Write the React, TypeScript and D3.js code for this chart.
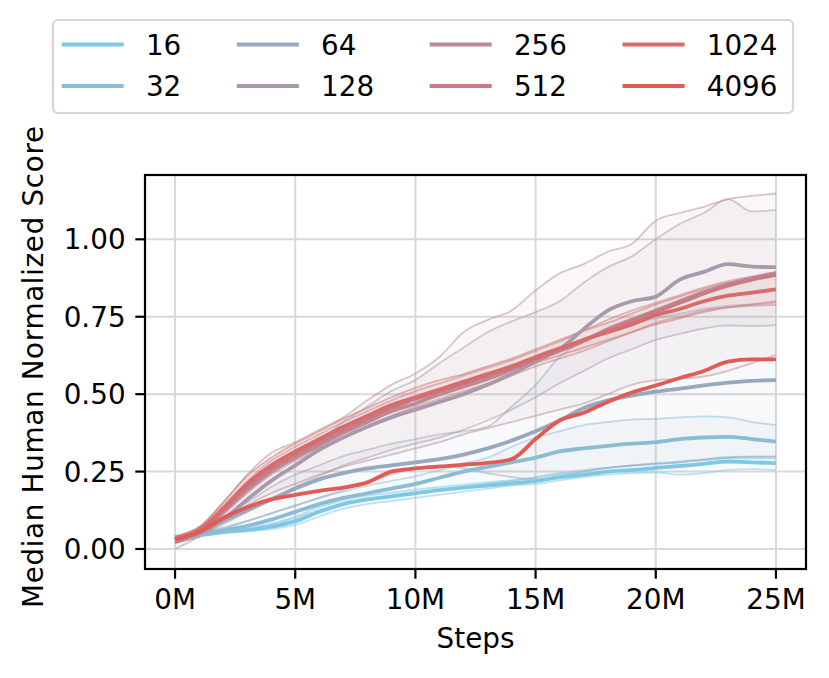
import * as d3 from 'd3';

// steps in millions
const steps = [0, 1, 2, 3, 4, 5, 6, 7, 8, 9, 10, 11, 12, 13, 14, 15, 16, 17, 18, 19, 20, 21, 22, 23, 24, 25];

const labels = ['16', '32', '64', '128', '256', '512', '1024', '4096'];
const colors = ['#7ec8e4', '#8bbcd4', '#98a8bf', '#a89aaa', '#b98b96', '#c87b83', '#d86b6b', '#e05a56'];

// medians
const med16 = [0.03, 0.045, 0.055, 0.062, 0.072, 0.09, 0.12, 0.145, 0.16, 0.17, 0.18, 0.19, 0.198, 0.205, 0.212, 0.22, 0.232, 0.24, 0.25, 0.255, 0.262, 0.268, 0.275, 0.282, 0.28, 0.277];
const med32 = [0.03, 0.045, 0.06, 0.075, 0.095, 0.12, 0.145, 0.165, 0.18, 0.195, 0.21, 0.23, 0.25, 0.265, 0.28, 0.295, 0.315, 0.325, 0.333, 0.34, 0.345, 0.355, 0.36, 0.362, 0.355, 0.347];
const med64 = [0.03, 0.05, 0.09, 0.125, 0.16, 0.195, 0.225, 0.245, 0.26, 0.27, 0.28, 0.29, 0.305, 0.325, 0.35, 0.38, 0.415, 0.455, 0.48, 0.495, 0.508, 0.518, 0.528, 0.537, 0.543, 0.545];
const med128 = [0.03, 0.05, 0.095, 0.16, 0.22, 0.27, 0.32, 0.36, 0.395, 0.425, 0.45, 0.475, 0.5, 0.53, 0.565, 0.605, 0.645, 0.71, 0.77, 0.8, 0.815, 0.87, 0.895, 0.92, 0.912, 0.91];
const med256 = [0.03, 0.055, 0.12, 0.19, 0.25, 0.295, 0.335, 0.375, 0.41, 0.445, 0.47, 0.5, 0.525, 0.55, 0.58, 0.61, 0.64, 0.672, 0.71, 0.74, 0.77, 0.8, 0.83, 0.855, 0.875, 0.89];
const med512 = [0.03, 0.06, 0.125, 0.2, 0.26, 0.305, 0.345, 0.385, 0.42, 0.455, 0.485, 0.51, 0.535, 0.56, 0.585, 0.615, 0.645, 0.675, 0.705, 0.735, 0.765, 0.795, 0.825, 0.85, 0.87, 0.885];
const med1024 = [0.03, 0.06, 0.13, 0.21, 0.27, 0.315, 0.355, 0.395, 0.43, 0.465, 0.49, 0.515, 0.54, 0.565, 0.59, 0.62, 0.648, 0.675, 0.7, 0.725, 0.755, 0.775, 0.8, 0.818, 0.828, 0.838];
const med4096 = [0.03, 0.055, 0.1, 0.135, 0.16, 0.175, 0.188, 0.198, 0.215, 0.25, 0.26, 0.266, 0.272, 0.278, 0.29, 0.355, 0.415, 0.44, 0.475, 0.505, 0.528, 0.552, 0.575, 0.605, 0.612, 0.612];

// lower / upper band edges
const lo16 = [0.02, 0.04, 0.05, 0.056, 0.064, 0.078, 0.105, 0.13, 0.145, 0.155, 0.165, 0.175, 0.185, 0.195, 0.205, 0.21, 0.222, 0.232, 0.24, 0.245, 0.247, 0.24, 0.245, 0.255, 0.258, 0.255];
const hi16 = [0.035, 0.05, 0.06, 0.07, 0.082, 0.105, 0.135, 0.158, 0.172, 0.182, 0.192, 0.2, 0.208, 0.215, 0.222, 0.23, 0.242, 0.25, 0.262, 0.27, 0.277, 0.283, 0.29, 0.297, 0.298, 0.298];
const lo32 = [0.025, 0.04, 0.052, 0.062, 0.078, 0.1, 0.125, 0.145, 0.16, 0.17, 0.18, 0.19, 0.2, 0.21, 0.22, 0.232, 0.245, 0.255, 0.262, 0.268, 0.275, 0.28, 0.287, 0.292, 0.293, 0.292];
const hi32 = [0.035, 0.05, 0.07, 0.09, 0.115, 0.14, 0.165, 0.185, 0.205, 0.22, 0.235, 0.255, 0.275, 0.295, 0.33, 0.36, 0.38, 0.4, 0.41, 0.418, 0.42, 0.425, 0.428, 0.425, 0.41, 0.4];
const lo64 = [0.02, 0.04, 0.065, 0.09, 0.115, 0.14, 0.165, 0.19, 0.215, 0.24, 0.26, 0.27, 0.26, 0.245, 0.232, 0.225, 0.235, 0.25, 0.262, 0.27, 0.275, 0.28, 0.288, 0.295, 0.298, 0.298];
const hi64 = [0.04, 0.06, 0.1, 0.15, 0.2, 0.24, 0.27, 0.3, 0.32, 0.34, 0.355, 0.37, 0.38, 0.395, 0.46, 0.53, 0.62, 0.67, 0.705, 0.725, 0.745, 0.76, 0.775, 0.785, 0.79, 0.795];
const lo128 = [0.02, 0.04, 0.08, 0.12, 0.16, 0.2, 0.235, 0.27, 0.295, 0.32, 0.34, 0.36, 0.385, 0.415, 0.45, 0.49, 0.535, 0.575, 0.615, 0.645, 0.675, 0.695, 0.712, 0.722, 0.72, 0.723];
const hi128 = [0.04, 0.065, 0.13, 0.21, 0.27, 0.31, 0.35, 0.41, 0.46, 0.51, 0.546, 0.6, 0.65, 0.7, 0.735, 0.765, 0.8, 0.86, 0.91, 0.945, 1.0, 1.05, 1.085, 1.13, 1.09, 1.095];
const lo256 = [0.0, 0.04, 0.09, 0.14, 0.18, 0.21, 0.24, 0.265, 0.285, 0.305, 0.325, 0.345, 0.37, 0.39, 0.41, 0.43, 0.45, 0.47, 0.5, 0.53, 0.545, 0.55, 0.557, 0.575, 0.6, 0.626];
const hi256 = [0.04, 0.07, 0.15, 0.24, 0.31, 0.345, 0.385, 0.425, 0.48, 0.53, 0.567, 0.62, 0.7, 0.74, 0.77, 0.835, 0.89, 0.92, 0.96, 0.985, 1.06, 1.085, 1.105, 1.13, 1.14, 1.148];
const lo512 = [0.02, 0.05, 0.11, 0.18, 0.24, 0.285, 0.325, 0.36, 0.395, 0.43, 0.46, 0.485, 0.51, 0.535, 0.56, 0.59, 0.615, 0.64, 0.67, 0.7, 0.73, 0.75, 0.77, 0.78, 0.785, 0.788];
const hi512 = [0.04, 0.07, 0.14, 0.22, 0.285, 0.33, 0.37, 0.41, 0.445, 0.48, 0.51, 0.535, 0.56, 0.585, 0.61, 0.64, 0.67, 0.705, 0.74, 0.77, 0.795, 0.82, 0.845, 0.865, 0.88, 0.895];
const lo1024 = [0.02, 0.05, 0.115, 0.19, 0.25, 0.295, 0.335, 0.375, 0.41, 0.445, 0.47, 0.495, 0.52, 0.545, 0.57, 0.6, 0.625, 0.65, 0.675, 0.7, 0.725, 0.745, 0.765, 0.78, 0.79, 0.8];
const hi1024 = [0.04, 0.07, 0.15, 0.235, 0.295, 0.34, 0.38, 0.42, 0.455, 0.49, 0.52, 0.545, 0.565, 0.59, 0.615, 0.645, 0.675, 0.705, 0.73, 0.76, 0.79, 0.815, 0.84, 0.86, 0.875, 0.885];

const xTicks = [0, 5, 10, 15, 20, 25];
const yTicks = [0, 0.25, 0.5, 0.75, 1.0];
const xLimits = [-1.25, 26.25];
const yLimits = [-0.0646, 1.2077];

const series = [
  { label: labels[0], color: colors[0], med: med16, lo: lo16, hi: hi16 },
  { label: labels[1], color: colors[1], med: med32, lo: lo32, hi: hi32 },
  { label: labels[2], color: colors[2], med: med64, lo: lo64, hi: hi64 },
  { label: labels[3], color: colors[3], med: med128, lo: lo128, hi: hi128 },
  { label: labels[4], color: colors[4], med: med256, lo: lo256, hi: hi256 },
  { label: labels[5], color: colors[5], med: med512, lo: lo512, hi: hi512 },
  { label: labels[6], color: colors[6], med: med1024, lo: lo1024, hi: hi1024 },
  { label: labels[7], color: colors[7], med: med4096, lo: null, hi: null },
];

const W = 829;
const H = 678;
const FONT = '"DejaVu Sans", sans-serif';
const FS = 27.8;
const plot = { left: 145, right: 806, top: 175, bottom: 569 };

export default function App() {
  const x = d3.scaleLinear().domain(xLimits).range([plot.left, plot.right]);
  const y = d3.scaleLinear().domain(yLimits).range([plot.bottom, plot.top]);

  const line = d3.line<number>()
    .x((_, i) => x(steps[i]))
    .y(d => y(d))
    .curve(d3.curveMonotoneX);

  const band = (lo: number[], hi: number[]) =>
    d3.area<number>()
      .x((_, i) => x(steps[i]))
      .y0((_, i) => y(lo[i]))
      .y1((_, i) => y(hi[i]))
      .curve(d3.curveMonotoneX)(lo);

  // legend layout: 4 columns, 2 rows, column-major
  const handleLen = 62;
  const textPad = 22.2;
  const colSpacing = 55.6;
  const digitW = 0.636 * FS;
  const cols: { x: number; items: typeof series }[] = [];
  let cx = 61.7;
  for (let c = 0; c < 4; c++) {
    const items = series.slice(c * 2, c * 2 + 2);
    cols.push({ x: cx, items });
    const maxChars = d3.max(items, s => s.label.length) ?? 2;
    cx += handleLen + textPad + maxChars * digitW + colSpacing;
  }
  const rowY = [44.5, 86];

  return (
    <div style={{ position: 'absolute', left: 0, top: 0 }}>
      <svg width={W} height={H} viewBox={`0 0 ${W} ${H}`} style={{ display: 'block', background: '#fff' }} fontFamily={FONT}>
        <defs>
          <clipPath id="plotClip">
            <rect x={plot.left} y={plot.top} width={plot.right - plot.left} height={plot.bottom - plot.top} />
          </clipPath>
        </defs>

        {/* grid */}
        <g stroke="#d9d9d9" strokeWidth={2}>
          {xTicks.map(t => (
            <line key={`gx${t}`} x1={x(t)} x2={x(t)} y1={plot.top} y2={plot.bottom} />
          ))}
          {yTicks.map(t => (
            <line key={`gy${t}`} x1={plot.left} x2={plot.right} y1={y(t)} y2={y(t)} />
          ))}
        </g>

        <g clipPath="url(#plotClip)">
          {/* bands */}
          {series.map(s =>
            s.lo && s.hi ? (
              <path key={`b${s.label}`} d={band(s.lo, s.hi) ?? ''} fill={s.color} fillOpacity={0.07} stroke="none" />
            ) : null
          )}
          {/* band edges */}
          {series.map(s =>
            s.lo && s.hi ? (
              <g key={`e${s.label}`} fill="none" stroke={s.color} strokeWidth={1.8} strokeOpacity={0.5}>
                <path d={line(s.lo) ?? ''} />
                <path d={line(s.hi) ?? ''} />
              </g>
            ) : null
          )}
          {/* medians */}
          {series.map(s => (
            <path
              key={`m${s.label}`}
              d={line(s.med) ?? ''}
              fill="none"
              stroke={s.color}
              strokeWidth={3.8}
              strokeLinecap="butt"
              strokeLinejoin="round"
            />
          ))}
        </g>

        {/* spines */}
        <rect
          x={plot.left}
          y={plot.top}
          width={plot.right - plot.left}
          height={plot.bottom - plot.top}
          fill="none"
          stroke="#000"
          strokeWidth={2.2}
        />

        {/* x ticks */}
        {xTicks.map(t => (
          <g key={`xt${t}`}>
            <line x1={x(t)} x2={x(t)} y1={plot.bottom} y2={plot.bottom + 9.7} stroke="#000" strokeWidth={2.2} />
            <text x={x(t)} y={plot.bottom + 40} textAnchor="middle" fontSize={FS} fill="#000">
              {`${t}M`}
            </text>
          </g>
        ))}
        {/* y ticks */}
        {yTicks.map(t => (
          <g key={`yt${t}`}>
            <line x1={plot.left - 9.7} x2={plot.left} y1={y(t)} y2={y(t)} stroke="#000" strokeWidth={2.2} />
            <text x={plot.left - 19.4} y={y(t) + 10.1} textAnchor="end" fontSize={FS} fill="#000">
              {t.toFixed(2)}
            </text>
          </g>
        ))}

        <text x={(plot.left + plot.right) / 2} y={648} textAnchor="middle" fontSize={FS} fill="#000">
          Steps
        </text>
        <text
          transform={`translate(43,367) rotate(-90)`}
          textAnchor="middle"
          fontSize={FS}
          textLength={482}
          lengthAdjust="spacing"
          fill="#000"
        >
          Median Human Normalized Score
        </text>

        {/* legend */}
        <rect x={53} y={20} width={740} height={93} rx={5} fill="#fff" fillOpacity={0.8} stroke="#d6d6d6" strokeWidth={2.2} />
        {cols.map((c, ci) =>
          c.items.map((s, ri) => (
            <g key={`lg${ci}-${ri}`}>
              <line x1={c.x} x2={c.x + handleLen} y1={rowY[ri]} y2={rowY[ri]} stroke={s.color} strokeWidth={4} />
              <text x={c.x + handleLen + textPad} y={rowY[ri] + 10.1} fontSize={FS} fill="#000">
                {s.label}
              </text>
            </g>
          ))
        )}
      </svg>
    </div>
  );
}
